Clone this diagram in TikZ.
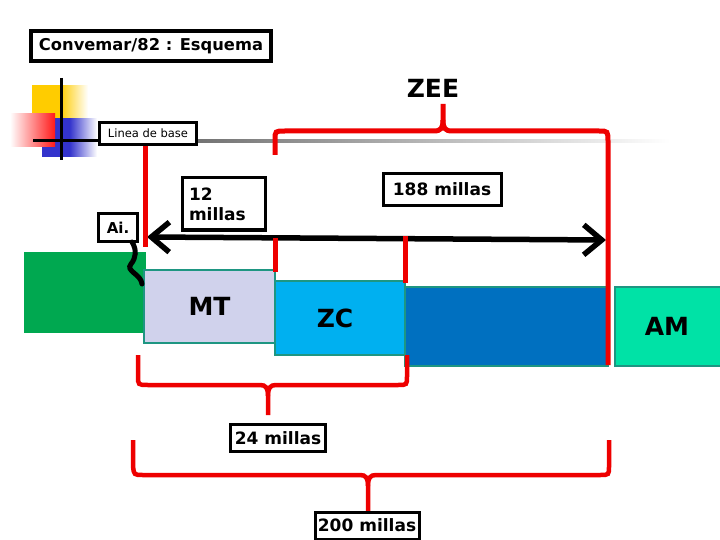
\documentclass[tikz,border=0pt]{standalone}
\usepackage{fontspec}
\setmainfont{DejaVu Sans}
\usetikzlibrary{arrows.meta}
\definecolor{zred}{RGB}{238,0,0}
\definecolor{zteal}{RGB}{30,150,130}
\definecolor{zgreen}{RGB}{0,168,80}
\definecolor{zlav}{RGB}{208,210,236}
\definecolor{zcyan}{RGB}{0,176,240}
\definecolor{zblue}{RGB}{0,112,192}
\definecolor{zmint}{RGB}{0,226,166}
\definecolor{zyel}{RGB}{255,204,0}
\definecolor{zdblue}{RGB}{51,51,204}
\begin{document}
\begin{tikzpicture}[x=1pt,y=-1pt,
  lbl/.style={draw=black, line width=3pt, fill=white, inner sep=0pt, font=\fontsize{17}{20}\selectfont\bfseries},
  zone/.style={draw=zteal, line width=2.5pt, inner sep=0pt, font=\fontsize{25}{28}\selectfont\bfseries},
  redln/.style={draw=zred, line width=5pt},
  blk/.style={draw=black, line width=5.5pt}]
\useasboundingbox (0,0) rectangle (720,540);
% decoration squares
\shade[left color=zyel, right color=white, middle color=zyel] (32,86) rectangle (88,120);
\shade[left color=zdblue, right color=white, middle color=zdblue] (42,119) rectangle (97,157);
\shade[left color=white, right color=red!90, middle color=red!45] (10,114) rectangle (55,147);
\draw[black, line width=3pt] (33,141) -- (100,141);
\draw[black, line width=3pt] (61,78) -- (61,160);
\shade[left color=black!55, right color=white] (197,139.5) rectangle (670,142.5);
% title
\node[lbl, line width=4pt, minimum width=240pt, minimum height=30pt, font=\fontsize{16.3}{20}\selectfont\bfseries] (title) at (151,46) {Convemar/82 : Esquema};
\node[font=\fontsize{25}{28}\selectfont\bfseries] (zee) at (433,88) {ZEE};
\node[lbl, font=\fontsize{11.5}{13}\selectfont, minimum width=97pt, minimum height=22pt] (base) at (148,133.5) {Linea de base};
% zones
\node[zone, draw=zgreen, fill=zgreen, minimum width=120pt, minimum height=79pt] (land) at (85,292.5) {};
\node[zone, fill=zlav, minimum width=131pt, minimum height=73pt] (mt) at (209.5,306.5) {MT};
\node[zone, fill=zcyan, minimum width=130pt, minimum height=74pt] (zc) at (340,318) {\hspace*{-10pt}ZC};
\node[zone, fill=zblue, minimum width=203pt, minimum height=79pt] (zb) at (506.5,326.5) {};
\node[zone, fill=zmint, minimum width=110pt, minimum height=79pt] (am) at (670,326.5) {\hspace*{-6pt}AM};
% arrow
\coordinate (al) at (147,237);
\coordinate (ar) at (606,240);
\draw[blk, line cap=round, {Straight Barb[length=18pt,width=30pt]}-{Straight Barb[length=18pt,width=30pt]}] (al) -- (ar);
% labels
\node[lbl, minimum width=83pt, minimum height=52pt, align=left, text width=70pt, font=\fontsize{17}{20}\selectfont\bfseries] (m12) at (224,204) {12\\millas};
\node[lbl, minimum width=118pt, minimum height=32pt] (m188) at (442,189.5) {188 millas};
\node[lbl, font=\fontsize{15}{18}\selectfont\bfseries, minimum width=39pt, minimum height=28pt] (ai) at (118,227.5) {Ai.};
% squiggle
\coordinate (sq0) at (132,242);
\coordinate (sq1) at (142,284);
\draw[blk, line width=5pt, line cap=round] (sq0) .. controls (137,250) and (136,258) .. (131,264) .. controls (125,271) and (141,274) .. (sq1);
% red lines
\draw[redln] (145,146) -- (145,247);
\draw[redln] (275,238) -- (275,272);
\draw[redln] (405,236) -- (405,283);
\draw[redln] (275,155) -- (275,140) .. controls (275,131) .. (285,131) -- (434,131) .. controls (441,131) and (443,128) .. (443,120) -- (443,104);
\draw[redln] (443,120) .. controls (443,128) and (445,131) .. (452,131) -- (599,131) .. controls (608,131) .. (608,142) -- (608,365);
% lower brace 24
\draw[redln, line width=4.5pt] (138,355) -- (138,376) .. controls (138,385) .. (148,385) -- (260,385) .. controls (266,385) and (268,388) .. (268,396) -- (268,415);
\draw[redln, line width=4.5pt] (268,396) .. controls (268,388) and (270,385) .. (276,385) -- (398,385) .. controls (407,385) .. (407,376) -- (407,355);
\node[lbl, minimum width=95pt, minimum height=27pt] (m24) at (278,438) {24 millas};
% lower brace 200
\draw[redln, line width=4.5pt] (133,440) -- (133,466) .. controls (134,475) .. (143,475) -- (360,475) .. controls (366,475) and (368,478) .. (368,486) -- (368,512);
\draw[redln, line width=4.5pt] (368,486) .. controls (368,478) and (370,475) .. (376,475) -- (600,475) .. controls (609,475) .. (609,466) -- (609,440);
\node[lbl, minimum width=104pt, minimum height=27pt] (m200) at (367,525.5) {200 millas};
\end{tikzpicture}
\end{document}
